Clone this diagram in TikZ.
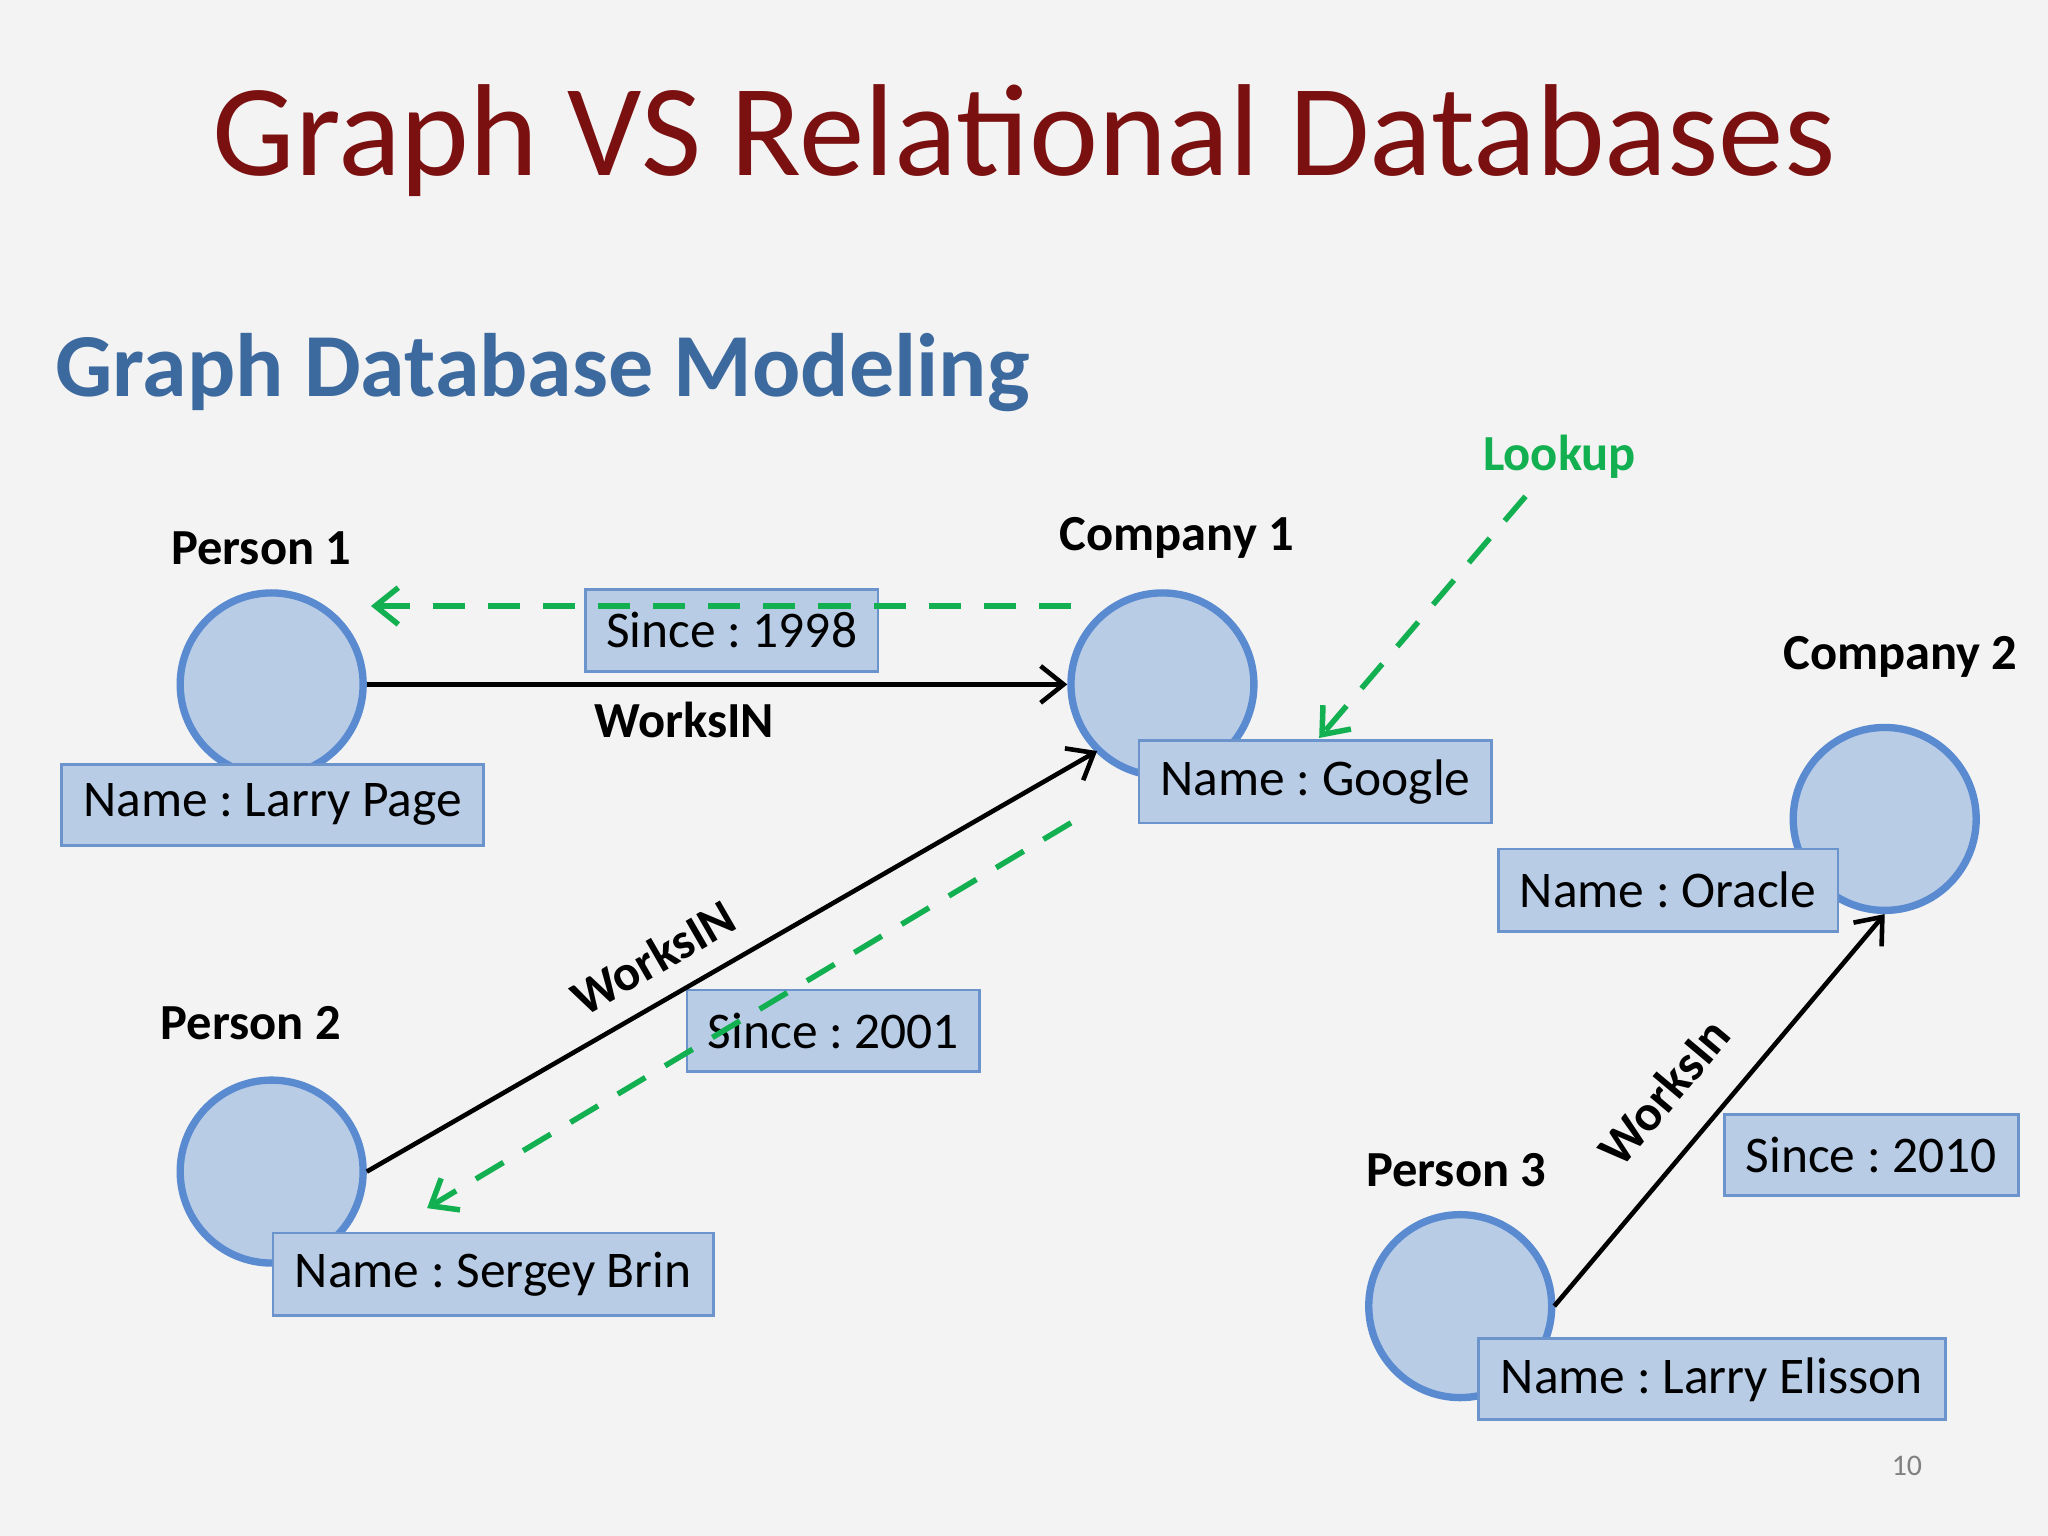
\documentclass[tikz,border=0pt]{standalone}
\usepackage{fontspec}
\setmainfont{Carlito}
\frenchspacing
\usetikzlibrary{arrows.meta}
\definecolor{bg}{HTML}{F3F3F4}
\definecolor{titlered}{HTML}{7B1010}
\definecolor{subblue}{HTML}{3D6A9E}
\definecolor{nodefill}{HTML}{B8CCE6}
\definecolor{nodeline}{HTML}{5A8AD0}
\definecolor{boxline}{HTML}{6C94CC}
\definecolor{lookgreen}{HTML}{12B050}
\begin{document}
\begin{tikzpicture}[x=0.01cm,y=-0.01cm,
  ent/.style={circle,draw=nodeline,fill=nodefill,line width=1.6pt,minimum size=1.4cm,inner sep=0pt},
  prop/.style={draw=boxline,fill=nodefill,line width=0.6pt,font=\fontsize{11.2}{13}\selectfont,anchor=north west,inner sep=0pt},
  lbl/.style={font=\bfseries\fontsize{11}{13}\selectfont},
  rel/.style={line width=1pt,-{Straight Barb[length=5pt,width=8pt]}},
  look/.style={lookgreen,line width=1.2pt,dash pattern=on 7pt off 5pt,-{Straight Barb[length=5pt,width=8pt]}}]
\fill[bg] (0,0) rectangle (1568,1176);
\node[titlered,font=\fontsize{28.5}{32}\selectfont] (title) at (784,108) {Graph VS Relational Databases};
\node[subblue,font=\bfseries\fontsize{19.6}{23}\selectfont,anchor=west] (sub) at (30,285) {Graph Database Modeling};
\node[ent] (p1) at (208,524) {};
\node[ent] (c1) at (890,524) {};
\node[ent] (c2) at (1443,627) {};
\node[ent] (p2) at (208,897) {};
\node[ent] (p3) at (1118,1000) {};
\node[lbl] (lp1) at (200,420) {Person 1};
\node[lbl] (lc1) at (901,412) {Company 1};
\node[lbl] (lc2) at (1455,503) {Company 2};
\node[lbl] (lp2) at (192,783) {Person 2};
\node[lbl] (lp3) at (1115,896) {Person 3};
\node[prop,minimum width=3.23cm,minimum height=0.62cm] (b1) at (46,584) {Name : Larry Page};
\node[prop,minimum width=2.24cm,minimum height=0.63cm] (s1) at (447,450) {Since : 1998};
\node[prop,minimum width=2.70cm,minimum height=0.63cm] (b2) at (871,566) {Name : Google};
\node[prop,minimum width=2.60cm,minimum height=0.63cm] (b3) at (1146,649) {Name : Oracle};
\node[prop,minimum width=2.24cm,minimum height=0.62cm] (s2) at (525,757) {Since : 2001};
\node[prop,minimum width=3.37cm,minimum height=0.63cm] (b4) at (208,943) {Name : Sergey Brin};
\node[prop,minimum width=2.25cm,minimum height=0.62cm] (s3) at (1319,852) {Since : 2010};
\node[prop,minimum width=3.57cm,minimum height=0.62cm] (b5) at (1131,1024) {Name : Larry Elisson};
\draw[rel] (p1.east) -- (c1.west);
\node[lbl] (w1) at (524,551) {WorksIN};
\coordinate (c1in) at (840,575);
\draw[rel] (p2.east) -- (c1in);
\node[lbl,rotate=30] (w2) at (500,733) {WorksIN};
\coordinate (p3out) at (1190,1000);
\draw[rel] (p3out) -- (c2.south);
\node[lbl,rotate=50] (w3) at (1274,836) {WorksIn};
\coordinate (g1s) at (820,464);
\coordinate (g1e) at (284,464);
\draw[look] (g1s) -- (g1e);
\coordinate (g2s) at (820,630);
\coordinate (g2e) at (327,925);
\draw[look] (g2s) -- (g2e);
\node[lookgreen,font=\bfseries\fontsize{11}{13}\selectfont] (lk) at (1194,350) {Lookup};
\coordinate (g3s) at (1168,380);
\coordinate (g3e) at (1010,565);
\draw[look] (g3s) -- (g3e);
\node[gray,font=\fontsize{6.5}{8}\selectfont] (pg) at (1460,1122) {10};
\end{tikzpicture}
\end{document}
